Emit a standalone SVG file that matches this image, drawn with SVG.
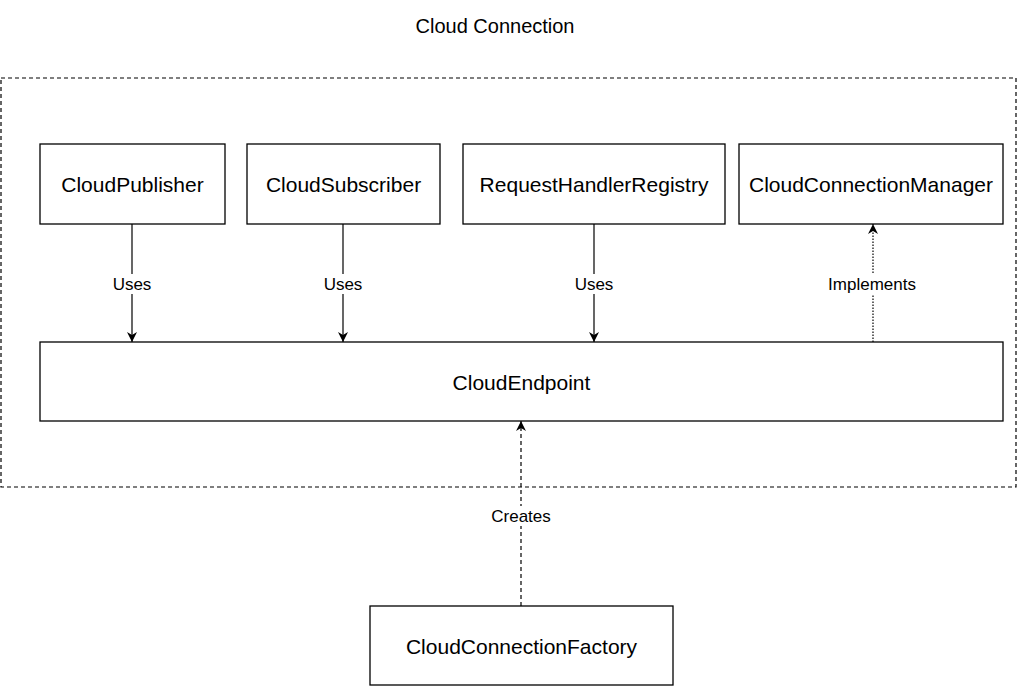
<svg xmlns="http://www.w3.org/2000/svg" width="1017" height="687" viewBox="0 0 1017 687">
<style>
.node{fill:#fff;stroke:#000;stroke-width:1.3}
.nt{font-family:"Liberation Sans",Arial,sans-serif;font-size:21px;fill:#000;text-anchor:middle;dominant-baseline:central}
.lt{font-family:"Liberation Sans",Arial,sans-serif;font-size:17px;fill:#000;text-anchor:middle;dominant-baseline:central}
.edge{stroke:#000;stroke-width:1.2;fill:none}
.lbg{fill:#fff}
</style>
<defs>
<marker id="ah" viewBox="0 0 10 10" refX="10" refY="5" markerWidth="10" markerHeight="10" markerUnits="userSpaceOnUse" orient="auto">
<path d="M0,0 L10,5 L0,10 L3,5 Z" fill="#000"/>
</marker>
</defs>
<rect width="1017" height="687" fill="#fff"/>
<text class="nt" x="495" y="26" style="font-size:20px">Cloud Connection</text>
<g id="container">
<rect x="1" y="78" width="1015" height="409" fill="none" stroke="#000" stroke-width="1.2" stroke-dasharray="4,3"/>
</g>
<g id="connectors">
<line class="edge" x1="132" y1="224" x2="132" y2="342" marker-end="url(#ah)"/>
<line class="edge" x1="343" y1="224" x2="343" y2="342" marker-end="url(#ah)"/>
<line class="edge" x1="594" y1="224" x2="594" y2="342" marker-end="url(#ah)"/>
<line class="edge" x1="873" y1="342" x2="873" y2="224" stroke-dasharray="1.5,1.5" marker-end="url(#ah)"/>
<line class="edge" x1="521" y1="606" x2="521" y2="421" stroke-dasharray="4,3" marker-end="url(#ah)"/>
<rect class="lbg" x="110" y="274" width="44" height="20"/>
<text class="lt" x="132" y="284">Uses</text>
<rect class="lbg" x="321" y="274" width="44" height="20"/>
<text class="lt" x="343" y="284">Uses</text>
<rect class="lbg" x="572" y="274" width="44" height="20"/>
<text class="lt" x="594" y="284">Uses</text>
<rect class="lbg" x="827" y="274" width="92" height="20"/>
<text class="lt" x="872" y="284">Implements</text>
<rect class="lbg" x="489" y="506" width="64" height="20"/>
<text class="lt" x="521" y="516">Creates</text>
</g>
<g id="CloudPublisher">
<rect class="node" x="40" y="144" width="185" height="80"/>
<text class="nt" x="132.5" y="184">CloudPublisher</text>
</g>
<g id="CloudSubscriber">
<rect class="node" x="247" y="144" width="193" height="80"/>
<text class="nt" x="343.5" y="184">CloudSubscriber</text>
</g>
<g id="RequestHandlerRegistry">
<rect class="node" x="463" y="144" width="262" height="80"/>
<text class="nt" x="594" y="184">RequestHandlerRegistry</text>
</g>
<g id="CloudConnectionManager">
<rect class="node" x="739" y="144" width="264" height="80"/>
<text class="nt" x="871" y="184">CloudConnectionManager</text>
</g>
<g id="CloudEndpoint">
<rect class="node" x="40" y="342" width="963" height="79"/>
<text class="nt" x="521.5" y="382">CloudEndpoint</text>
</g>
<g id="CloudConnectionFactory">
<rect class="node" x="370" y="606" width="303" height="79"/>
<text class="nt" x="521.5" y="646">CloudConnectionFactory</text>
</g>
</svg>
